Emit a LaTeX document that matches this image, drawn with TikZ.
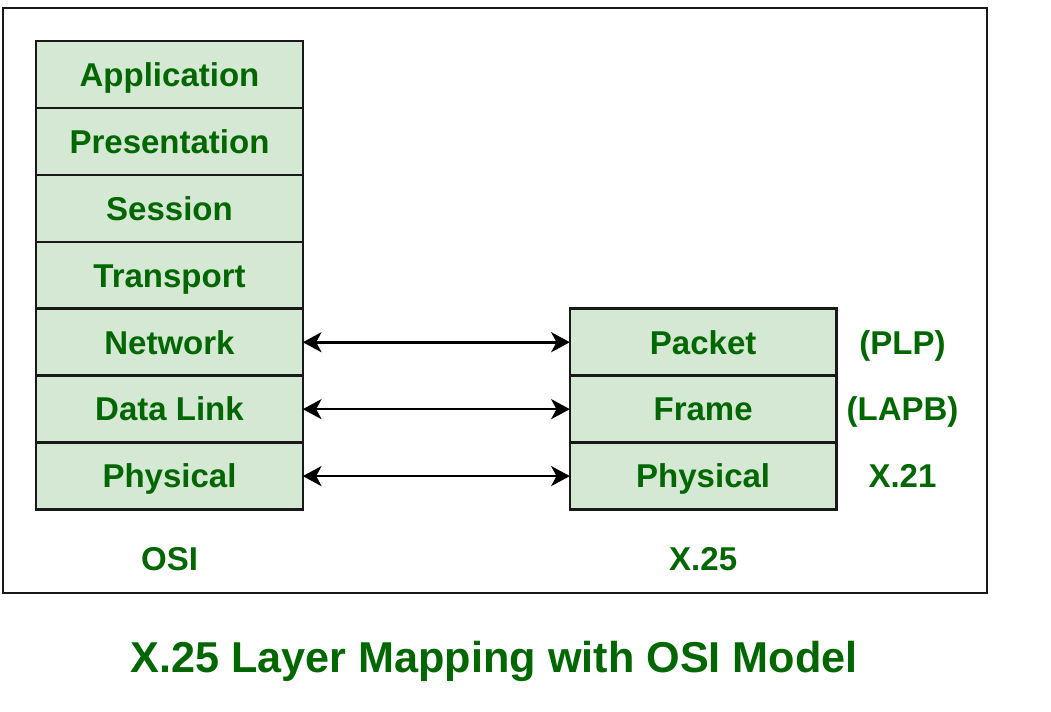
\documentclass[tikz,border=0pt]{standalone}
\usepackage{fontspec}
\setmainfont{Liberation Sans}
\usetikzlibrary{arrows, arrows.meta}
\usetikzlibrary{positioning}
\usepackage{xcolor}

\definecolor{gfgreen}{HTML}{006600}
\definecolor{layerfill}{HTML}{D5E8D4}

\tikzset{
	layer/.style={draw=black!90, line width=1.9pt, fill=layerfill, text=gfgreen, font=\bfseries\fontsize{24.75}{28}\selectfont, minimum width=200pt, minimum height=50.2pt, outer sep=0pt, inner sep=0pt, text height=17.7pt, text depth=0pt},
	lbl/.style={text=gfgreen, font=\bfseries\fontsize{24.75}{28}\selectfont, text height=17.7pt, text depth=0pt},
	map/.style={{Stealth[length=14pt,width=15pt,inset=4pt]}-{Stealth[length=14pt,width=15pt,inset=4pt]}, line width=2pt}
}

\begin{document}
\begin{tikzpicture}[x=0.75pt, y=-0.75pt] % X.25 vs OSI layers
	\useasboundingbox (0,0) rectangle (1051,712);
	
	%outer frame
	\draw[line width=2pt, black!90] (3,8) rectangle (987,593);
	
	%OSI stack
	\node[layer] (app) at (169.5,74.5) {Application};
	\node[layer, below=0pt of app] (pre) {Presentation};
	\node[layer, below=0pt of pre] (ses) {Session};
	\node[layer, below=0pt of ses] (tra) {Transport};
	\node[layer, below=0pt of tra] (net) {Network};
	\node[layer, below=0pt of net] (dl) {Data Link};
	\node[layer, below=0pt of dl] (phy) {Physical};
	
	%X.25 stack
	\node[layer, right=200.25pt of net] (pkt) {Packet};
	\node[layer, below=0pt of pkt] (frm) {Frame};
	\node[layer, below=0pt of frm] (xphy) {Physical};
	
	%arrows
	\draw[map] (net) -- (pkt);
	\draw[map] (dl) -- (frm);
	\draw[map] (phy) -- (xphy);
	
	%labels
	\node[lbl] (plp) at ([xshift=49.5pt]pkt.east) {(PLP)};
	\node[lbl] (lapb) at ([xshift=49.5pt]frm.east) {(LAPB)};
	\node[lbl] (x21) at ([xshift=49.5pt]xphy.east) {X.21};
	
	\node[lbl] (osi) at ([yshift=-36.75pt]phy.south) {OSI};
	\node[lbl] (x25) at ([yshift=-36.75pt]xphy.south) {X.25};
	
	\node[text=gfgreen, font=\bfseries\fontsize{32.4}{36}\selectfont, text height=23.2pt, text depth=0pt] (title) at (494,657) {X.25 Layer Mapping with OSI Model};
	
\end{tikzpicture}
\end{document}
